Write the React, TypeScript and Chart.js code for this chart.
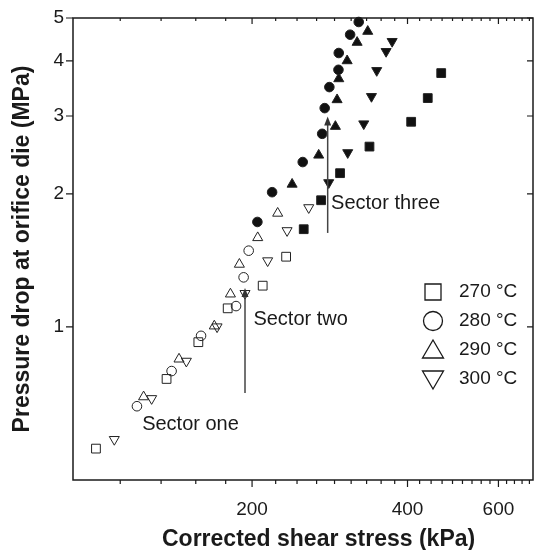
import React, { useEffect, useRef } from 'react';
import { Chart, registerables } from 'chart.js';

Chart.register(...registerables);

const FONT = "'Liberation Sans', Arial, Helvetica, sans-serif";

const legendLabels = ['270 °C', '280 °C', '290 °C', '300 °C'];

// Corrected shear stress (kPa) and pressure drop (MPa); first N points open, rest filled
const stress270 = [99.7, 136.6, 157.4, 179.4, 209.7, 232.8, 251.8, 272.1, 296.1, 337.6, 406.6, 437.8, 464.9];
const pressure270 = [0.53, 0.762, 0.923, 1.101, 1.239, 1.441, 1.663, 1.934, 2.227, 2.558, 2.911, 3.294, 3.752];
const open270 = 6;

const stress280 = [119.7, 139.7, 159.3, 186.2, 192.6, 197.0, 204.8, 218.7, 250.7, 273.4, 276.5, 282.3, 294.0, 294.4, 309.7, 321.8];
const pressure280 = [0.661, 0.794, 0.954, 1.114, 1.294, 1.487, 1.727, 2.017, 2.36, 2.734, 3.126, 3.488, 3.817, 4.166, 4.583, 4.897];
const open280 = 6;

const stress290 = [123.3, 144.4, 169.0, 181.6, 189.0, 205.1, 224.2, 239.1, 269.2, 290.0, 292.2, 294.4, 305.6, 319.5, 335.0];
const pressure290 = [0.694, 0.845, 1.004, 1.186, 1.385, 1.591, 1.807, 2.102, 2.446, 2.841, 3.265, 3.642, 4.0, 4.403, 4.663];
const open290 = 7;

const stress300 = [108.2, 127.8, 149.2, 171.1, 193.8, 214.4, 233.8, 257.5, 281.5, 306.4, 329.1, 340.6, 348.7, 363.6, 373.5];
const pressure300 = [0.556, 0.688, 0.836, 1.0, 1.19, 1.411, 1.651, 1.861, 2.12, 2.479, 2.881, 3.322, 3.803, 4.201, 4.426];
const open300 = 8;

const xMajorTicks = [200, 400, 600];
const xMinorTicks = [111.1, 133.3, 155.6, 177.8, 222.2, 244.4, 266.7, 288.9, 311.1, 333.3, 355.6, 377.8,
  422.2, 444.4, 466.7, 488.9, 511.1, 533.3, 555.6, 577.8, 622.2, 644.4, 666.7, 688.9];
const yMajorTicks = [1, 2, 3, 4, 5];

const sectorLabels = ['Sector one', 'Sector two', 'Sector three'];
const sectorLabelX = [122.5, 201.2, 284.5];
const sectorLabelY = [0.602, 1.041, 1.897];
const arrowX = [193.8, 280.2];
const arrowFromY = [0.708, 1.631];
const arrowToY = [1.224, 2.992];

const xTitle = 'Corrected shear stress (kPa)';
const yTitle = 'Pressure drop at orifice die (MPa)';

const INK = '#1a1a1a';

const series = [
  { label: legendLabels[0], xs: stress270, ys: pressure270, open: open270, style: 'rect', radius: 6.2, rotation: 0 },
  { label: legendLabels[1], xs: stress280, ys: pressure280, open: open280, style: 'circle', radius: 4.8, rotation: 0 },
  { label: legendLabels[2], xs: stress290, ys: pressure290, open: open290, style: 'triangle', radius: 5.8, rotation: 0 },
  { label: legendLabels[3], xs: stress300, ys: pressure300, open: open300, style: 'triangle', radius: 5.8, rotation: 180 },
];

function drawMarker(ctx: CanvasRenderingContext2D, kind: number, cx: number, cy: number) {
  ctx.beginPath();
  if (kind === 0) {
    ctx.rect(cx - 8, cy - 8, 16, 16);
  } else if (kind === 1) {
    ctx.arc(cx, cy, 9.5, 0, Math.PI * 2);
  } else if (kind === 2) {
    ctx.moveTo(cx, cy - 10);
    ctx.lineTo(cx + 10.5, cy + 8);
    ctx.lineTo(cx - 10.5, cy + 8);
    ctx.closePath();
  } else {
    ctx.moveTo(cx, cy + 10);
    ctx.lineTo(cx + 10.5, cy - 8);
    ctx.lineTo(cx - 10.5, cy - 8);
    ctx.closePath();
  }
  ctx.stroke();
}

const decorPlugin = {
  id: 'decor',
  afterDraw(chart: any) {
    const { ctx, chartArea: a } = chart;
    const x = chart.scales.x;
    const y = chart.scales.y;
    ctx.save();
    ctx.strokeStyle = INK;
    ctx.fillStyle = INK;
    ctx.lineWidth = 1.5;
    ctx.strokeRect(a.left, a.top, a.right - a.left, a.bottom - a.top);

    // x ticks (bottom outward, top inward)
    ctx.lineWidth = 1.2;
    for (const t of x.ticks) {
      const px = x.getPixelForValue(t.value);
      const major = xMajorTicks.includes(t.value);
      ctx.beginPath();
      ctx.moveTo(px, a.bottom);
      ctx.lineTo(px, a.bottom + (major ? 7 : 4));
      ctx.moveTo(px, a.top);
      ctx.lineTo(px, a.top + (major ? 6 : 3));
      ctx.stroke();
    }
    // y ticks (left outward, right inward)
    for (const t of y.ticks) {
      const py = y.getPixelForValue(t.value);
      ctx.beginPath();
      ctx.moveTo(a.left, py);
      ctx.lineTo(a.left - 7, py);
      ctx.moveTo(a.right, py);
      ctx.lineTo(a.right - 6, py);
      ctx.stroke();
    }

    // arrows
    ctx.strokeStyle = '#444';
    ctx.fillStyle = '#333';
    ctx.lineWidth = 1.5;
    for (let i = 0; i < arrowX.length; i++) {
      const px = x.getPixelForValue(arrowX[i]);
      const y0 = y.getPixelForValue(arrowFromY[i]);
      const y1 = y.getPixelForValue(arrowToY[i]);
      ctx.beginPath();
      ctx.moveTo(px, y0);
      ctx.lineTo(px, y1 + 6);
      ctx.stroke();
      ctx.beginPath();
      ctx.moveTo(px, y1);
      ctx.lineTo(px + 3.5, y1 + 9);
      ctx.lineTo(px - 3.5, y1 + 9);
      ctx.closePath();
      ctx.fill();
    }

    // sector labels
    ctx.fillStyle = INK;
    ctx.font = `20px ${FONT}`;
    ctx.textAlign = 'left';
    ctx.textBaseline = 'middle';
    for (let i = 0; i < sectorLabels.length; i++) {
      ctx.fillText(sectorLabels[i], x.getPixelForValue(sectorLabelX[i]), y.getPixelForValue(sectorLabelY[i]));
    }

    // legend
    ctx.strokeStyle = INK;
    ctx.lineWidth = 1.3;
    ctx.font = `19px ${FONT}`;
    for (let i = 0; i < legendLabels.length; i++) {
      const cy = a.top + 274 + i * 29;
      drawMarker(ctx, i, a.right - 100, cy);
      ctx.fillText(legendLabels[i], a.right - 74, cy);
    }

    // axis titles
    ctx.font = `bold 23px ${FONT}`;
    ctx.textAlign = 'left';
    ctx.fillText(xTitle, 162, 540);
    ctx.save();
    ctx.translate(23, (a.top + a.bottom) / 2);
    ctx.rotate(-Math.PI / 2);
    ctx.textAlign = 'center';
    ctx.fillText(yTitle, 0, 0);
    ctx.restore();
    ctx.restore();
  },
};

export default function App() {
  const ref = useRef<HTMLCanvasElement | null>(null);
  useEffect(() => {
    if (!ref.current) return;
    const datasets = series.map((s) => ({
      label: s.label,
      data: s.xs.map((v, i) => ({ x: v, y: s.ys[i] })),
      showLine: false,
      pointStyle: s.style,
      pointRadius: s.radius,
      pointRotation: s.rotation,
      pointBackgroundColor: s.xs.map((_, i) => (i < s.open ? 'rgba(0,0,0,0)' : '#111')),
      pointBorderColor: '#222',
      pointBorderWidth: 1,
      clip: false,
    }));
    const chart = new Chart(ref.current, {
      type: 'scatter',
      data: { datasets },
      options: {
        responsive: false,
        maintainAspectRatio: false,
        devicePixelRatio: 1,
        animation: false,
        events: [],
        layout: { autoPadding: false, padding: { top: 18, right: 1, left: 0, bottom: 0 } },
        plugins: { legend: { display: false }, tooltip: { enabled: false }, title: { display: false } },
        scales: {
          x: {
            type: 'logarithmic',
            min: 90,
            max: 700,
            afterBuildTicks: (s: any) => {
              s.ticks = [...xMinorTicks, ...xMajorTicks].sort((p, q) => p - q).map((v) => ({ value: v, major: false }));
            },
            afterFit: (s: any) => {
              s.height = 70;
              s.paddingLeft = 0;
              s.paddingRight = 0;
            },
            grid: { display: false, drawTicks: false },
            border: { display: false },
            ticks: {
              autoSkip: false,
              maxRotation: 0,
              minRotation: 0,
              padding: 18,
              color: INK,
              font: { family: FONT, size: 19 },
              callback: (v: any) => (xMajorTicks.includes(v) ? String(v) : ''),
            },
          },
          y: {
            type: 'logarithmic',
            min: 0.45,
            max: 5,
            afterBuildTicks: (s: any) => {
              s.ticks = yMajorTicks.map((v) => ({ value: v, major: false }));
            },
            afterFit: (s: any) => {
              s.width = 73;
              s.paddingTop = 0;
              s.paddingBottom = 0;
            },
            grid: { display: false, drawTicks: false },
            border: { display: false },
            ticks: {
              autoSkip: false,
              padding: 9,
              color: INK,
              font: { family: FONT, size: 19 },
              callback: (v: any) => (yMajorTicks.includes(v) ? String(v) : ''),
            },
          },
        },
      },
      plugins: [decorPlugin],
    } as any);
    return () => chart.destroy();
  }, []);
  return (
    <div style={{ position: 'fixed', left: 0, top: 0, width: 534, height: 550, background: '#fff' }}>
      <canvas ref={ref} width={534} height={550} style={{ display: 'block', width: 534, height: 550 }} />
    </div>
  );
}
